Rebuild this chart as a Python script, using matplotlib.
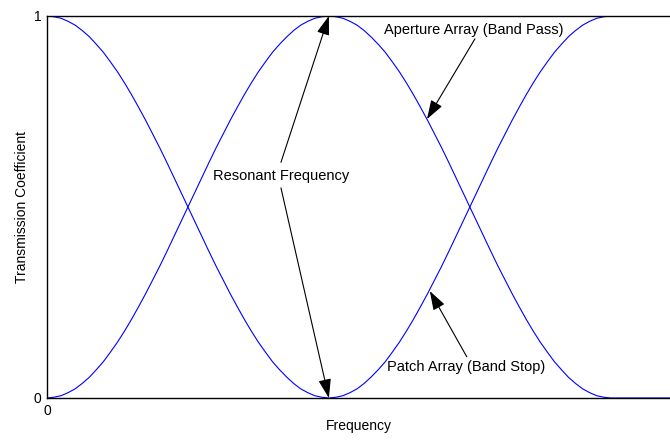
import matplotlib.pyplot as plt

plt.rcParams['font.family'] = ['Liberation Sans', 'DejaVu Sans']

# frequency axis (resonance at 1.0)
freq = [0.000, 0.025, 0.050, 0.075, 0.100, 0.125, 0.150, 0.175, 0.200, 0.225,
        0.250, 0.275, 0.300, 0.325, 0.350, 0.375, 0.400, 0.425, 0.450, 0.475,
        0.500, 0.525, 0.550, 0.575, 0.600, 0.625, 0.650, 0.675, 0.700, 0.725,
        0.750, 0.775, 0.800, 0.825, 0.850, 0.875, 0.900, 0.925, 0.950, 0.975,
        1.000, 1.025, 1.050, 1.075, 1.100, 1.125, 1.150, 1.175, 1.200, 1.225,
        1.250, 1.275, 1.300, 1.325, 1.350, 1.375, 1.400, 1.425, 1.450, 1.475,
        1.500, 1.525, 1.550, 1.575, 1.600, 1.625, 1.650, 1.675, 1.700, 1.725,
        1.750, 1.775, 1.800, 1.825, 1.850, 1.875, 1.900, 1.925, 1.950, 1.975,
        2.000, 2.300]

patch_stop = [1.000, 0.998, 0.994, 0.986, 0.976, 0.962, 0.946, 0.926, 0.905, 0.880,
              0.854, 0.825, 0.794, 0.761, 0.727, 0.691, 0.655, 0.617, 0.578, 0.539,
              0.500, 0.461, 0.422, 0.383, 0.345, 0.309, 0.273, 0.239, 0.206, 0.175,
              0.146, 0.120, 0.095, 0.074, 0.055, 0.038, 0.024, 0.014, 0.006, 0.002,
              0.000, 0.002, 0.006, 0.014, 0.024, 0.038, 0.055, 0.074, 0.095, 0.120,
              0.146, 0.175, 0.206, 0.239, 0.273, 0.309, 0.345, 0.383, 0.422, 0.461,
              0.500, 0.539, 0.578, 0.617, 0.655, 0.691, 0.727, 0.761, 0.794, 0.825,
              0.854, 0.880, 0.905, 0.926, 0.946, 0.962, 0.976, 0.986, 0.994, 0.998,
              1.000, 1.000]

aperture_pass = [0.000, 0.002, 0.006, 0.014, 0.024, 0.038, 0.054, 0.074, 0.095, 0.120,
                 0.146, 0.175, 0.206, 0.239, 0.273, 0.309, 0.345, 0.383, 0.422, 0.461,
                 0.500, 0.539, 0.578, 0.617, 0.655, 0.691, 0.727, 0.761, 0.794, 0.825,
                 0.854, 0.880, 0.905, 0.926, 0.945, 0.962, 0.976, 0.986, 0.994, 0.998,
                 1.000, 0.998, 0.994, 0.986, 0.976, 0.962, 0.945, 0.926, 0.905, 0.880,
                 0.854, 0.825, 0.794, 0.761, 0.727, 0.691, 0.655, 0.617, 0.578, 0.539,
                 0.500, 0.461, 0.422, 0.383, 0.345, 0.309, 0.273, 0.239, 0.206, 0.175,
                 0.146, 0.120, 0.095, 0.074, 0.054, 0.038, 0.024, 0.014, 0.006, 0.002,
                 0.000, 0.000]

fig = plt.figure(figsize=(6.70, 4.43), dpi=100)
ax = fig.add_axes([0.0701, 0.1016, 0.9299, 0.8623])

ax.plot(freq, patch_stop, color='#0000ff', lw=0.8)
ax.plot(freq, aperture_pass, color='#0000ff', lw=0.8)

ax.set_xlim(0, 2.21)
ax.set_ylim(0, 1)
ax.set_xticks([0])
ax.set_yticks([0, 1])
ax.tick_params(direction='in', length=0, labelsize=10, pad=4)
ax.spines['right'].set_visible(False)
for s in ['left', 'bottom', 'top']:
    ax.spines[s].set_linewidth(1.0)

ax.set_xlabel('Frequency', fontsize=10, labelpad=1)
ax.set_ylabel('Transmission Coefficient', fontsize=10, labelpad=3)

arrow = dict(arrowstyle='-|>,head_length=0.9,head_width=0.3', color='k',
             lw=0.8, mutation_scale=13, shrinkA=0, shrinkB=0)

ax.text(0.83, 0.582, 'Resonant Frequency', ha='center', va='center', fontsize=10.5)
ax.annotate('', xy=(1.0, 1.0), xytext=(0.83, 0.617), arrowprops=arrow)
ax.annotate('', xy=(1.0, 0.0), xytext=(0.83, 0.550), arrowprops=arrow)

ax.text(1.514, 0.964, 'Aperture Array (Band Pass)', ha='center', va='center', fontsize=10.5)
ax.annotate('', xy=(1.348, 0.730), xytext=(1.518, 0.940), arrowprops=arrow)

ax.text(1.486, 0.081, 'Patch Array (Band Stop)', ha='center', va='center', fontsize=10.5)
ax.annotate('', xy=(1.358, 0.280), xytext=(1.489, 0.108), arrowprops=arrow)

fig.savefig('out.png', dpi=100)
